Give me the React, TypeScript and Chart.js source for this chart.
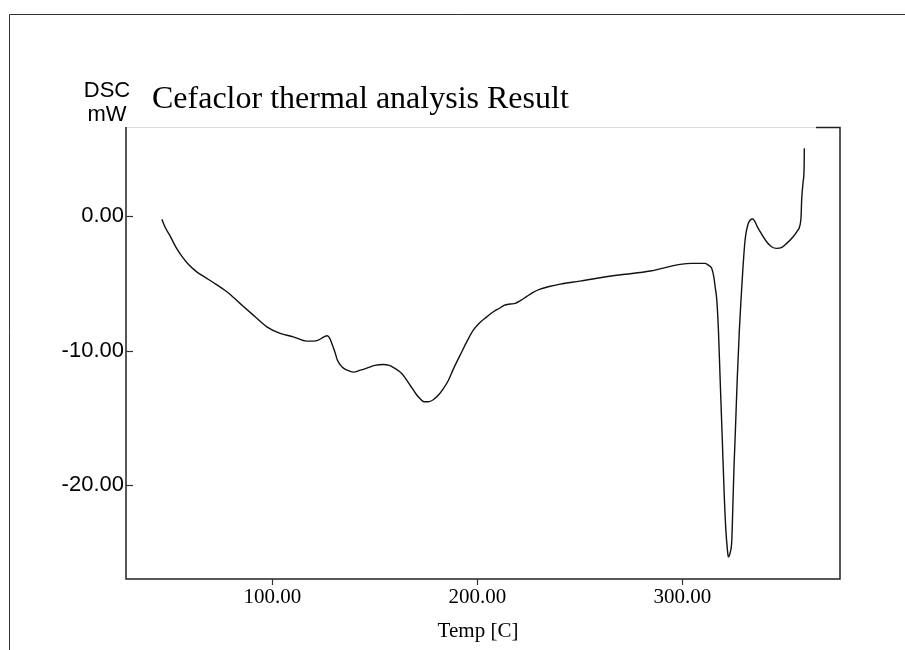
import React, { useEffect, useRef } from "react";
import { Chart, registerables } from "chart.js";

Chart.register(...registerables);

const tempC = [
  46.1, 47.5, 50.1, 53, 55.8, 59, 63.1, 67, 71.2, 77.8, 84.2, 90.7, 97.3, 103.8, 110.2, 116.8, 120, 122.4, 125,
  126.8, 128, 129, 130.5, 131.7, 133.9, 136.5, 139.6, 143, 146.1, 150, 153.9, 157, 159.1, 163.1, 167.2, 170, 172,
  174, 176.1, 178.5, 181, 183.5, 185.9, 188.5, 191.6, 195, 198, 201, 204.6, 208, 210.6, 213, 216, 218.5, 221, 224,
  227, 230.6, 235, 240.4, 250, 259.9, 270, 284.3, 298.9, 304.6, 311.1, 313, 314.3, 315.3, 316, 316.8, 317.6, 318.4,
  319.5, 320.5, 321.3, 322, 322.4, 323.3, 324.1, 324.7, 325.2, 325.7, 326.8, 327.8, 328.6, 329.5, 330.6, 332.2,
  334.3, 337, 341.1, 343.5, 346, 348.5, 350.9, 353.5, 355.8, 357.4, 357.9, 358.2, 358.9, 359.4, 359.5,
];

const dscMw = [
  -0.27, -0.8, -1.5, -2.35, -3.0, -3.6, -4.16, -4.55, -4.95, -5.64, -6.5, -7.37, -8.24, -8.73, -8.98, -9.3, -9.3,
  -9.23, -9.0, -8.9, -9.1, -9.47, -10.1, -10.7, -11.2, -11.45, -11.6, -11.45, -11.3, -11.1, -11.03, -11.1, -11.26,
  -11.7, -12.57, -13.2, -13.56, -13.8, -13.8, -13.65, -13.3, -12.8, -12.2, -11.3, -10.34, -9.3, -8.49, -7.95, -7.5,
  -7.1, -6.88, -6.65, -6.55, -6.5, -6.3, -6.0, -5.7, -5.45, -5.25, -5.07, -4.85, -4.6, -4.38, -4.1, -3.61, -3.53,
  -3.53, -3.7, -3.9, -4.5, -5.27, -6.26, -8.5, -12, -16.7, -21, -23.5, -24.8, -25.3, -25.0, -24.1, -21.2, -18.6,
  -16.65, -12, -8.5, -6.27, -4, -1.8, -0.56, -0.24, -0.94, -1.93, -2.3, -2.42, -2.35, -2.05, -1.65, -1.19, -0.69, -0.1,
  1.17, 2.5, 3.64, 5.0,
];

const xTickValues = [100, 200, 300];
const yTickValues = [0, -10, -20];

const titleText = "Cefaclor thermal analysis Result";
const yTitleLines = ["DSC", "mW"];
const xTitleText = "Temp [C]";

const decorPlugin = {
  id: "decor",
  afterDraw(chart: any) {
    const ctx = chart.ctx;
    const { left, right, top, bottom } = chart.chartArea;
    const xs = chart.scales.x;
    const ys = chart.scales.y;
    ctx.save();
    // outer frame
    ctx.strokeStyle = "#333";
    ctx.lineWidth = 1;
    ctx.beginPath();
    ctx.moveTo(9.5, 650);
    ctx.lineTo(9.5, 14.5);
    ctx.lineTo(905, 14.5);
    ctx.stroke();
    // plot frame
    ctx.strokeStyle = "#dcdcdc";
    ctx.beginPath();
    ctx.moveTo(left, top + 0.5);
    ctx.lineTo(816, top + 0.5);
    ctx.stroke();
    ctx.strokeStyle = "#222";
    ctx.lineWidth = 1.5;
    ctx.beginPath();
    ctx.moveTo(816, top + 0.5);
    ctx.lineTo(right, top + 0.5);
    ctx.lineTo(right, bottom);
    ctx.lineTo(left, bottom);
    ctx.lineTo(left, top);
    ctx.stroke();
    // y ticks (inward)
    ctx.lineWidth = 1.2;
    ctx.strokeStyle = "#333";
    ys.ticks.forEach((t: any) => {
      const py = Math.round(ys.getPixelForValue(t.value)) + 0.5;
      ctx.beginPath();
      ctx.moveTo(left, py);
      ctx.lineTo(left + 7, py);
      ctx.stroke();
    });
    // x ticks (outward)
    xs.ticks.forEach((t: any) => {
      const px = Math.round(xs.getPixelForValue(t.value)) + 0.5;
      ctx.beginPath();
      ctx.moveTo(px, bottom);
      ctx.lineTo(px, bottom + 6);
      ctx.stroke();
    });
    // texts
    ctx.fillStyle = "#000";
    ctx.textBaseline = "alphabetic";
    ctx.textAlign = "left";
    ctx.font = "32px 'Liberation Serif'";
    ctx.fillText(titleText, 152, 108);
    ctx.textAlign = "center";
    ctx.font = "22px 'Liberation Sans'";
    ctx.fillText(yTitleLines[0], 107, 97);
    ctx.fillText(yTitleLines[1], 107, 121);
    ctx.font = "21px 'Liberation Serif'";
    ctx.fillText(xTitleText, (left + right) / 2 - 5, 637);
    ctx.restore();
  },
};

export default function App() {
  const ref = useRef<HTMLCanvasElement | null>(null);
  useEffect(() => {
    if (!ref.current) return;
    const chart = new Chart(ref.current, {
      type: "line",
      data: {
        datasets: [
          {
            data: tempC.map((t, i) => ({ x: t, y: dscMw[i] })),
            borderColor: "#111",
            borderWidth: 1.4,
            pointRadius: 0,
            cubicInterpolationMode: "monotone",
            fill: false,
          },
        ],
      },
      options: {
        responsive: false,
        animation: false,
        devicePixelRatio: 1,
        layout: { padding: { left: 0, top: 127, right: 65, bottom: 0 } },
        plugins: { legend: { display: false }, tooltip: { enabled: false }, title: { display: false } },
        scales: {
          x: {
            type: "linear",
            min: 28.6,
            max: 376.9,
            grid: { display: false, drawTicks: false },
            border: { display: false },
            afterBuildTicks: (s: any) => {
              s.ticks = xTickValues.map((v) => ({ value: v }));
            },
            afterFit: (s: any) => {
              s.height = 71;
            },
            ticks: {
              padding: 6,
              color: "#000",
              font: { family: "'Liberation Serif'", size: 21 },
              maxRotation: 0,
              callback: (v: any) => Number(v).toFixed(2),
            },
          },
          y: {
            type: "linear",
            min: -26.94,
            max: 6.58,
            grid: { display: false, drawTicks: false },
            border: { display: false },
            afterBuildTicks: (s: any) => {
              s.ticks = yTickValues.map((v) => ({ value: v }));
            },
            afterFit: (s: any) => {
              s.width = 126;
            },
            ticks: {
              padding: 2,
              color: "#000",
              font: { family: "'Liberation Sans'", size: 22 },
              callback: (v: any) => Number(v).toFixed(2),
            },
          },
        },
      },
      plugins: [decorPlugin],
    });
    return () => chart.destroy();
  }, []);
  return (
    <canvas
      ref={ref}
      width={905}
      height={650}
      style={{ position: "absolute", left: 0, top: 0, width: 905, height: 650 }}
    />
  );
}
